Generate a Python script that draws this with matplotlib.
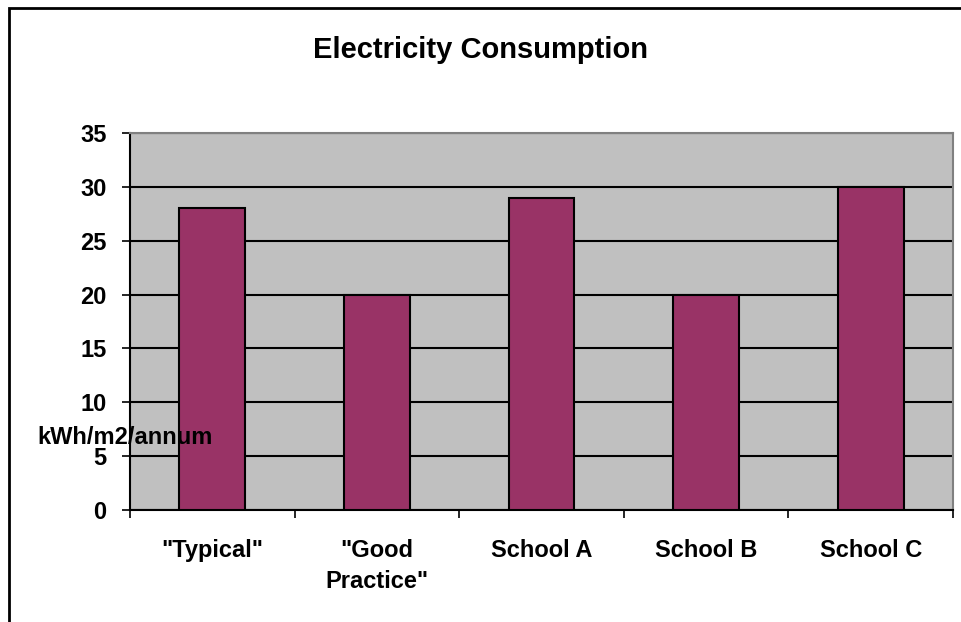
import matplotlib.pyplot as plt
from matplotlib.patches import Rectangle

categories = ['"Typical"', '"Good\nPractice"', 'School A', 'School B', 'School C']
values = [28, 20, 29, 20, 30]
y_ticks = [0, 5, 10, 15, 20, 25, 30, 35]

plt.rcParams['font.family'] = ['Liberation Sans', 'DejaVu Sans']
plt.rcParams['font.weight'] = 'bold'

W, H = 962, 622
fig = plt.figure(figsize=(W / 100, H / 100), dpi=100)
fig.patch.set_facecolor('white')

# plot area in pixel coords
left, right, top, bottom = 130, 953, 133, 510
ax = fig.add_axes([left / W, 1 - bottom / H, (right - left) / W, (bottom - top) / H])
ax.set_facecolor('#c0c0c0')

x = list(range(len(categories)))
ax.bar(x, values, width=0.4, color='#993366', edgecolor='black', linewidth=1.5, zorder=3)

ax.set_ylim(0, 35)
ax.set_xlim(-0.5, len(categories) - 0.5)
ax.set_yticks(y_ticks)
ax.set_yticklabels([str(v) for v in y_ticks], fontsize=17, fontweight='bold')
ax.yaxis.grid(True, color='black', linewidth=1.5, zorder=1)
ax.set_axisbelow(True)

# category labels centred, ticks at boundaries
ax.set_xticks(x)
ax.set_xticklabels(categories, fontsize=17, fontweight='bold', linespacing=1.44)
ax.tick_params(axis='x', length=0, pad=21)
ax.set_xticks([i - 0.5 for i in range(len(categories) + 1)], minor=True)
ax.tick_params(axis='x', which='minor', length=6, width=1.2, direction='out')
ax.tick_params(axis='y', length=6, width=1.2, direction='out', pad=11)

for s in ['left', 'bottom']:
    ax.spines[s].set_color('black')
    ax.spines[s].set_linewidth(1.5)
for s in ['top', 'right']:
    ax.spines[s].set_color('#808080')
    ax.spines[s].set_linewidth(1.5)

fig.text(481 / W, 1 - 50 / H, 'Electricity Consumption',
         ha='center', va='center', fontsize=21, fontweight='bold')
fig.text(37 / W, 1 - 438 / H, 'kWh/m2/annum', ha='left', va='center',
         fontsize=17, fontweight='bold', zorder=5)

# chart border (left/top visible, rest off-canvas)
fig.patches.append(Rectangle((9 / W, -0.1), 1.2, 1 - 8 / H + 0.1,
                             transform=fig.transFigure, fill=False,
                             edgecolor='black', linewidth=2))

fig.savefig('out.png', dpi=100)
